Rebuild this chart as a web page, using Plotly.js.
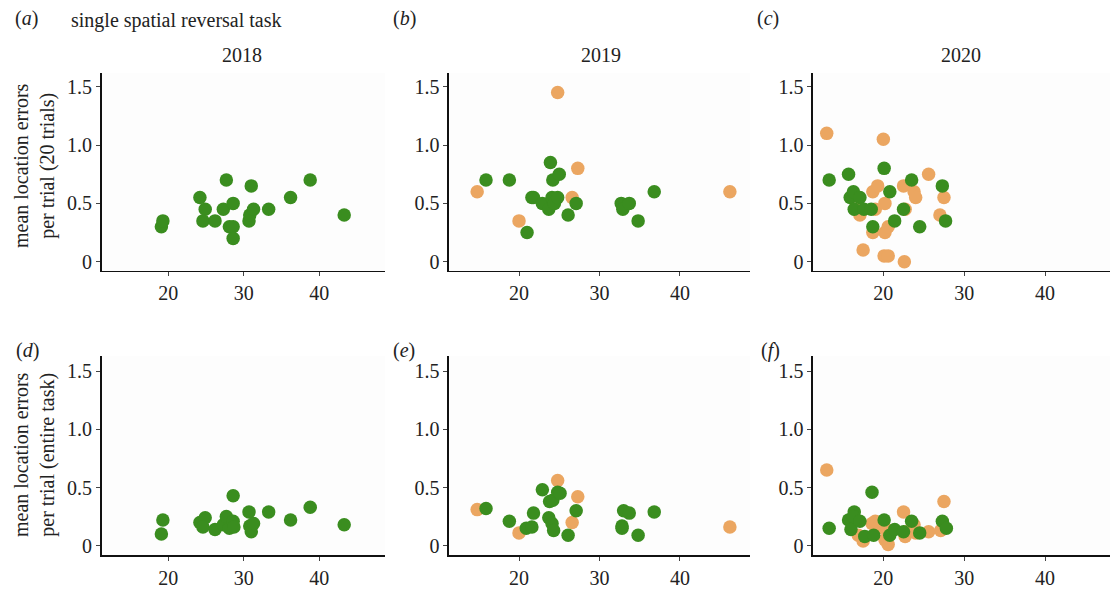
<!DOCTYPE html>
<html>
<head>
<meta charset="utf-8">
<script src="https://cdn.plot.ly/plotly-3.0.1.min.js"></script>
<style>html,body{margin:0;padding:0;background:#fff;}#chart{width:1110px;height:591px;}</style>
</head>
<body>
<div id="chart"></div>
<script>
// ---- data ----
const years = ["2018", "2019", "2020"];
const panelLabels = ["a", "b", "c", "d", "e", "f"];
const rowTitles = ["mean location errors<br>per trial (20 trials)", "mean location errors<br>per trial (entire task)"];
const headerText = "single spatial reversal task";

// panel (a) 2018, 20 trials
const aGreenX = [19.1, 19.3, 24.2, 24.9, 24.6, 26.2, 27.3, 27.7, 28.1, 28.6, 28.6, 28.6, 31.0, 30.7, 30.8, 31.3, 33.3, 36.2, 38.8, 43.3];
const aGreenY = [0.30, 0.35, 0.55, 0.45, 0.35, 0.35, 0.45, 0.70, 0.30, 0.50, 0.30, 0.20, 0.65, 0.35, 0.40, 0.45, 0.45, 0.55, 0.70, 0.40];

// panel (b) 2019, 20 trials
const bGreenX = [15.9, 18.8, 21.0, 21.6, 21.8, 22.9, 23.7, 23.9, 24.1, 24.2, 24.4, 24.8, 25.0, 26.1, 27.1, 32.7, 32.9, 33.7, 34.8, 36.8];
const bGreenY = [0.70, 0.70, 0.25, 0.55, 0.55, 0.50, 0.45, 0.85, 0.55, 0.70, 0.50, 0.55, 0.75, 0.40, 0.50, 0.50, 0.45, 0.50, 0.35, 0.60];
const bOrangeX = [14.8, 20.0, 24.8, 26.6, 27.3, 46.2];
const bOrangeY = [0.60, 0.35, 1.45, 0.55, 0.80, 0.60];

// panel (c) 2020, 20 trials
const cGreenX = [13.3, 15.7, 15.9, 16.3, 16.4, 17.1, 17.6, 18.5, 18.7, 20.1, 20.8, 21.4, 22.5, 23.5, 24.5, 27.3, 27.7];
const cGreenY = [0.70, 0.75, 0.55, 0.60, 0.45, 0.55, 0.45, 0.45, 0.30, 0.80, 0.60, 0.35, 0.45, 0.70, 0.30, 0.65, 0.35];
const cOrangeX = [13.0, 16.5, 17.1, 17.5, 18.7, 18.7, 19.0, 19.3, 20.0, 20.2, 20.2, 20.6, 20.1, 20.6, 22.5, 22.6, 22.7, 23.8, 24.0, 25.6, 27.0, 27.5];
const cOrangeY = [1.10, 0.45, 0.40, 0.10, 0.60, 0.25, 0.45, 0.65, 1.05, 0.50, 0.25, 0.30, 0.05, 0.05, 0.65, 0.00, 0.45, 0.60, 0.55, 0.75, 0.40, 0.55];

// panel (d) 2018, entire task
const dGreenX = [19.1, 19.3, 24.2, 24.9, 24.6, 26.2, 27.3, 27.7, 28.1, 28.6, 28.6, 28.7, 30.7, 30.8, 31.0, 31.3, 33.3, 36.2, 38.8, 43.3];
const dGreenY = [0.10, 0.22, 0.20, 0.24, 0.16, 0.14, 0.18, 0.25, 0.15, 0.43, 0.21, 0.16, 0.29, 0.17, 0.12, 0.19, 0.29, 0.22, 0.33, 0.18];

// panel (e) 2019, entire task
const eGreenX = [15.9, 18.8, 20.9, 21.6, 21.8, 22.9, 23.7, 23.8, 24.2, 24.1, 24.3, 24.8, 25.1, 26.1, 27.1, 32.8, 32.8, 33.0, 33.7, 34.8, 36.8];
const eGreenY = [0.32, 0.21, 0.15, 0.16, 0.28, 0.48, 0.24, 0.38, 0.39, 0.19, 0.13, 0.46, 0.45, 0.09, 0.30, 0.17, 0.15, 0.30, 0.28, 0.09, 0.29];
const eOrangeX = [14.8, 20.0, 24.8, 26.6, 27.3, 46.2];
const eOrangeY = [0.31, 0.11, 0.56, 0.20, 0.42, 0.16];

// panel (f) 2020, entire task
const fGreenX = [13.3, 15.7, 16.0, 16.4, 16.3, 17.1, 17.7, 18.6, 18.8, 20.1, 20.8, 21.4, 22.5, 23.5, 24.5, 27.3, 27.8];
const fGreenY = [0.15, 0.22, 0.14, 0.29, 0.25, 0.21, 0.08, 0.46, 0.09, 0.22, 0.09, 0.14, 0.12, 0.21, 0.11, 0.21, 0.15];
const fOrangeX = [13.0, 16.9, 17.5, 18.6, 19.0, 19.3, 20.1, 20.2, 20.6, 20.4, 22.5, 22.7, 22.8, 23.8, 24.0, 25.6, 27.1, 27.5];
const fOrangeY = [0.65, 0.09, 0.04, 0.19, 0.21, 0.15, 0.16, 0.05, 0.01, 0.14, 0.29, 0.08, 0.12, 0.18, 0.11, 0.12, 0.13, 0.38];

// ---- styling ----
const GREEN = "#3a8d1f";
const ORANGE = "#eba661";
const FONT = "'Liberation Serif'";
const FS = 20;
const W = 1110, H = 591;

const panels = [
  {g: [aGreenX, aGreenY], o: null},
  {g: [bGreenX, bGreenY], o: [bOrangeX, bOrangeY]},
  {g: [cGreenX, cGreenY], o: [cOrangeX, cOrangeY]},
  {g: [dGreenX, dGreenY], o: null},
  {g: [eGreenX, eGreenY], o: [eOrangeX, eOrangeY]},
  {g: [fGreenX, fGreenY], o: [fOrangeX, fOrangeY]}
];

const colPx = [[101.7, 385], [449, 750], [813, 1110]];
const rowPx = [[72.7, 270.7], [356, 555]];
const xRanges = [[11.2, 48.7], [11.3, 48.7], [11.3, 48.04]];

const traces = [];
const layout = {
  width: W, height: H,
  margin: {l: 0, r: 0, t: 0, b: 0},
  paper_bgcolor: "#ffffff",
  plot_bgcolor: "#fdfdfd",
  showlegend: false,
  font: {family: FONT, size: FS, color: "#222"},
  annotations: []
};

panels.forEach((p, i) => {
  const r = Math.floor(i / 3), c = i % 3;
  const n = i + 1;
  const sfx = n === 1 ? "" : String(n);
  const xa = "x" + sfx, ya = "y" + sfx;
  const mk = (col) => ({size: 13.5, color: col, line: {width: 0}});
  if (p.o) traces.push({type: "scatter", mode: "markers", x: p.o[0], y: p.o[1], xaxis: xa, yaxis: ya, marker: mk(ORANGE)});
  traces.push({type: "scatter", mode: "markers", x: p.g[0], y: p.g[1], xaxis: xa, yaxis: ya, marker: mk(GREEN)});

  const axCommon = {
    showgrid: false, zeroline: false, showline: true, linecolor: "#111", linewidth: 1.6,
    ticks: "outside", ticklen: 4, tickwidth: 1, tickcolor: "#444",
    tickfont: {family: FONT, size: FS, color: "#222"}, fixedrange: true
  };
  layout["xaxis" + sfx] = Object.assign({}, axCommon, {
    domain: [colPx[c][0] / W, colPx[c][1] / W],
    range: xRanges[c], tickvals: [20, 30, 40], ticktext: ["20", "30", "40"],
    anchor: ya
  });
  layout["yaxis" + sfx] = Object.assign({}, axCommon, {
    domain: [1 - rowPx[r][1] / H, 1 - rowPx[r][0] / H],
    range: r === 0 ? [-0.077, 1.62] : [-0.08, 1.63],
    tickvals: [0, 0.5, 1.0, 1.5], ticktext: ["0", "0.5", "1.0", "1.5"],
    anchor: xa
  });
});

const labelPos = [[26, 19], [404, 19], [768, 19], [27, 350], [404, 350], [770, 350]];
panelLabels.forEach((l, i) => {
  layout.annotations.push({
    xref: "paper", yref: "paper", x: labelPos[i][0] / W, y: 1 - labelPos[i][1] / H,
    xanchor: "center", yanchor: "middle", showarrow: false,
    text: "(<i>" + l + "</i>)", font: {family: FONT, size: FS, color: "#222"}
  });
});
layout.annotations.push({
  xref: "paper", yref: "paper", x: 69 / W, y: 1 - 21 / H, xanchor: "left", yanchor: "middle",
  showarrow: false, text: headerText, font: {family: FONT, size: FS, color: "#222"}
});
const yearX = [242, 601, 961];
years.forEach((yr, c) => {
  layout.annotations.push({
    xref: "paper", yref: "paper", x: yearX[c] / W, y: 1 - 55 / H,
    xanchor: "center", yanchor: "middle", showarrow: false, text: yr,
    font: {family: FONT, size: FS, color: "#222"}
  });
});
const rowTitleY = [166, 455];
rowTitles.forEach((t, r) => {
  layout.annotations.push({
    xref: "paper", yref: "paper", x: 34 / W, y: 1 - rowTitleY[r] / H,
    xanchor: "center", yanchor: "middle", showarrow: false, textangle: -90,
    text: t, font: {family: FONT, size: FS, color: "#222"}
  });
});

Plotly.newPlot("chart", traces, layout, {displayModeBar: false, staticPlot: true});
</script>
</body>
</html>
